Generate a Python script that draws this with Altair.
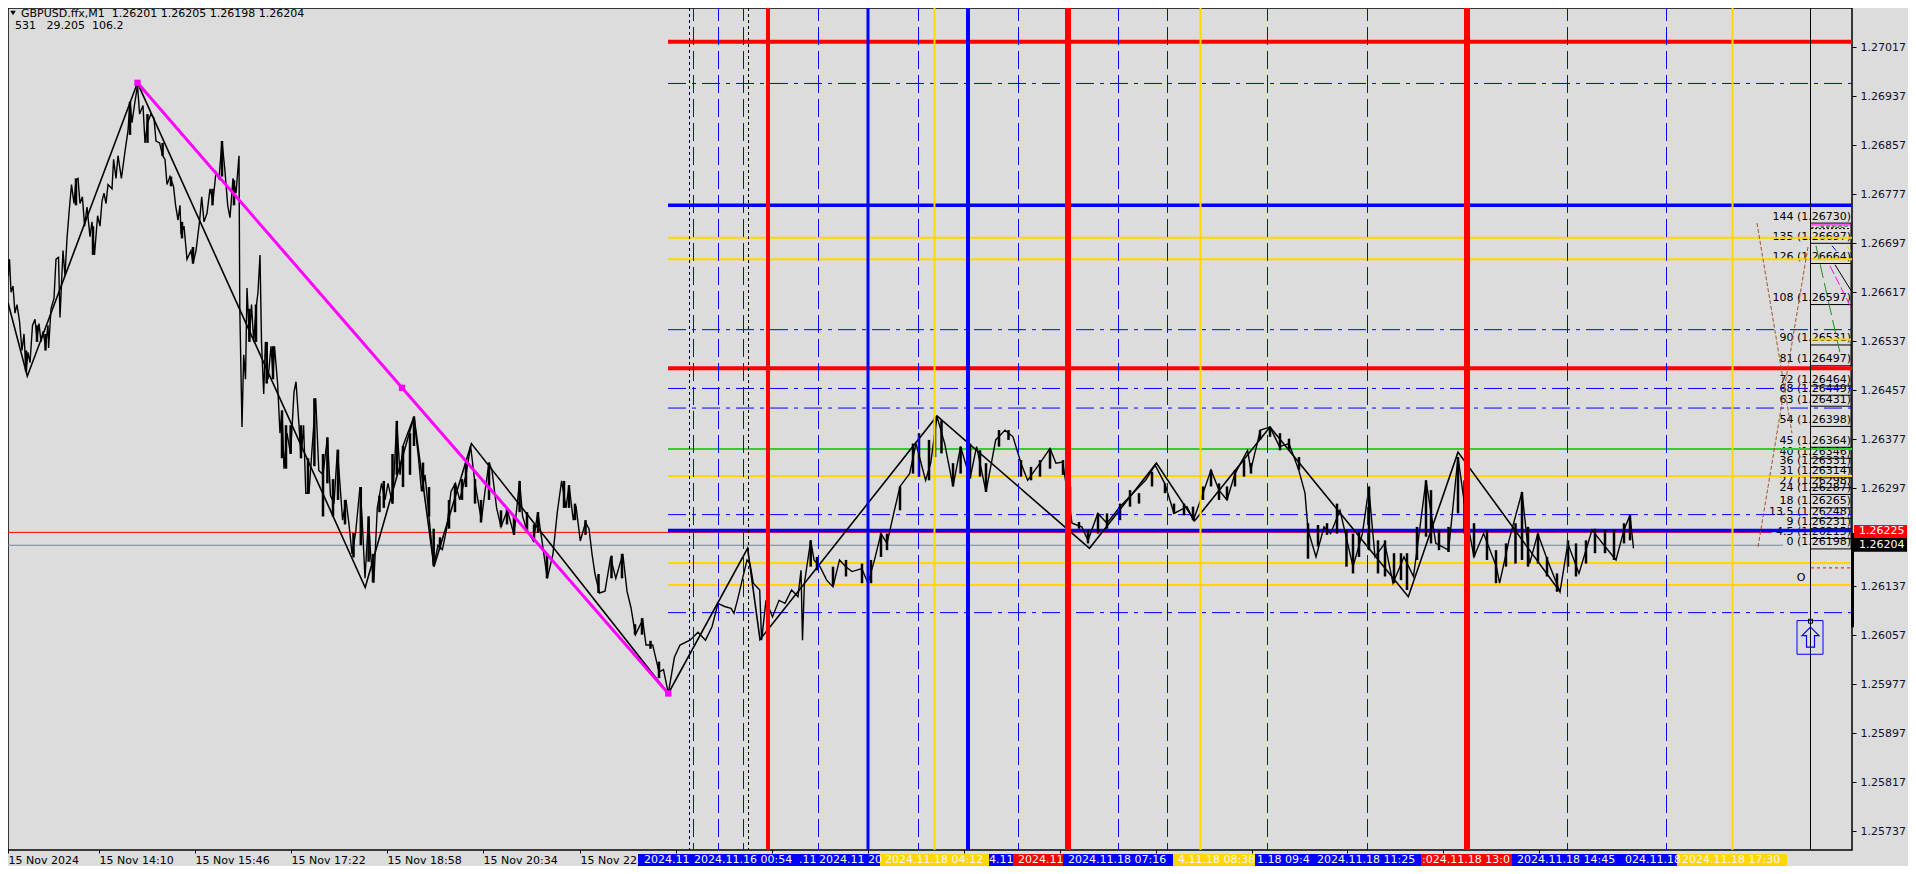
import altair as alt
import pandas as pd

FONT = "DejaVu Sans"
BG = "#dcdcdc"
BLUE, RED, GOLD, GREEN, MAG = "#0000ff", "#ff0000", "#ffd700", "#32cd32", "#ff00ff"

# (bar, price in 1e-5)
price_path = [(8,126644),(9.5,126671),(11,126617),(13,126627),(15,126583),(17,126597),(19.5,126570),(22,126522),(24,126549),(26,126488),(28,126519),(30,126502),(32.5,126563),(35,126573),(37,126542),(39,126566),(41,126536),(43,126553),(45.5,126529),(48,126563),(48.6,126526),(51,126590),(54,126607),(56,126671),(58.5,126674),(60,126576),(63,126685),(65,126644),(67,126705),(69,126746),(71.5,126793),(74,126762),(76,126800),(78,126803),(80,126762),(82.4,126773),(84.6,126725),(87,126756),(90,126708),(92,126732),(94.5,126678),(97.6,126742),(100,126725),(102,126766),(104,126779),(106,126762),(108,126793),(112,126786),(113.6,126834),(116,126803),(118,126840),(121.4,126803),(125,126847),(128,126881),(130,126928),(132,126894),(134.4,126922),(137.5,126955),(139.6,126908),(143,126922),(145,126861),(147.5,126894),(151,126908),(154,126901),(156,126864),(159.6,126861),(162.6,126840),(165,126834),(167,126793),(170,126806),(173.5,126790),(175.6,126759),(178,126735),(180,126759),(181,126712),(184,126725),(187,126671),(191,126685),(193,126664),(196,126685),(199.5,126732),(201.7,126773),(204,126732),(207,126746),(210,126786),(213,126766),(216,126813),(219,126803),(222,126864),(224.7,126820),(227.7,126759),(230,126739),(233,126803),(236,126779),(239,126840),(239.8,126590),(242,126397),(243.7,126515),(245.5,126475),(247,126624),(249.4,126542),(251.5,126597),(253.7,126536),(256,126590),(258,126617),(260,126678),(261.5,126536),(263.7,126451),(265.4,126536),(268,126475),(271,126529),(273,126481),(274.5,126529),(277.6,126468),(280,126387),(282,126424),(284,126329),(287,126387),(290.6,126353),(294,126454),(296,126471),(299,126400),(301,126346),(303.6,126400),(305.8,126289),(309,126289),(311.4,126346),(315.7,126444),(318.8,126326),(323,126319),(327.4,126380),(330.5,126285),(334,126272),(337.4,126360),(340.5,126292),(342.6,126245),(346,126278),(349,126238),(352,126190),(355.6,126224),(360,126299),(362,126251),(365,126150),(368.6,126251),(370.8,126184),(373.8,126143),(377.3,126265),(381.6,126305),(385,126278),(388,126305),(392.5,126272),(396.8,126407),(400,126319),(403,126366),(407.7,126387),(414,126414),(418.5,126346),(421.5,126292),(425,126319),(429,126251),(433.7,126170),(438,126204),(442.4,126197),(446.7,126231),(451,126292),(455.4,126305),(459.7,126278),(466,126319),(470.6,126366),(475,126305),(481.4,126245),(485,126292),(489,126339),(492,126326),(496.6,126265),(501,126234),(507.4,126261),(514,126221),(519.6,126309),(522.6,126251),(527,126228),(533.4,126211),(537.8,126258),(542,126211),(547.3,126150),(553,126190),(557.3,126258),(561.6,126309),(566,126265),(569,126302),(573.3,126245),(576,126268),(580.3,126211),(585.5,126241),(589,126231),(592,126190),(595,126157),(599.4,126126),(605,126129),(610.6,126184),(615.8,126150),(622.8,126190),(627,126129),(631,126102),(635.4,126058),(642.7,126082),(646,126041),(652.7,126041),(659,125997),(663.5,126001),(668.3,125962),(674.4,126021),(680,126041),(690,126049),(698,126062),(705.5,126049),(712,126071),(718,126109),(724.6,126104),(731,126101),(734,126093),(737.4,126114),(740.6,126136),(743.8,126158),(747,126180),(750,126174),(753.3,126142),(759.7,126131),(761.6,126049),(766,126114),(772.5,126087),(779,126114),(785,126109),(791.6,126131),(798,126120),(801,126163),(802.5,126049),(804.4,126142),(810.7,126212),(814,126180),(820,126169),(826.7,126147),(833,126136),(839.5,126180),(845.8,126169),(852,126161),(861.8,126166),(868,126142),(874.5,126180),(881,126223),(887,126207),(893.7,126256),(900,126300),(909.6,126321),(916,126370),(925.6,126310),(930.7,126338),(937,126414),(944.7,126370),(953,126300),(960.6,126365),(970,126313),(976.6,126365),(986,126291),(995.7,126376),(1005,126392),(1013,126381),(1021,126338),(1027.6,126310),(1040,126338),(1050,126362),(1056,126338),(1062.7,126340),(1067,126294),(1072,126240),(1081.8,126234),(1088,126212),(1097.8,126256),(1107,126240),(1120,126267),(1132.8,126289),(1145.6,126310),(1155,126335),(1164.7,126305),(1174,126256),(1187,126267),(1193.4,126245),(1203,126289),(1211,126327),(1219,126294),(1227,126278),(1235,126321),(1247.6,126359),(1250.8,126327),(1260.4,126392),(1270,126397),(1279.5,126365),(1289,126370),(1298.7,126327),(1305,126289),(1308,126229),(1316,126185),(1324,126234),(1330.6,126223),(1340,126261),(1353,126169),(1362.4,126223),(1368.8,126297),(1375,126185),(1384.8,126207),(1393,126142),(1404,126185),(1413.5,126153),(1420,126234),(1426,126310),(1435.8,126207),(1448.6,126196),(1458,126348),(1465.8,126256),(1474,126185),(1483.6,126223),(1496.4,126169),(1499.6,126142),(1509,126212),(1522,126291),(1529.6,126174),(1537.8,126223),(1547.4,126180),(1560,126128),(1567.8,126207),(1579,126158),(1592,126229),(1605,126202),(1616,126180),(1624,126229),(1630,126253),(1633.5,126199)]
# (bar, low, high in 1e-5): the dense high-low ranges
wick_left = [(8,126644,126671),(26,126488,126522),(37,126536,126563),(45.5,126522,126549),(76,126759,126803),(93,126678,126725),(130,126874,126928),(147.5,126861,126908),(162.6,126840,126861),(171,126790,126806),(182,126705,126732),(193,126664,126691),(212.5,126759,126786),(222,126806,126864),(234,126759,126800),(249.4,126536,126590),(256,126536,126597),(266.7,126468,126536),(273,126475,126529),(282,126346,126424),(286,126329,126400),(290.6,126353,126400),(301,126346,126400),(308,126289,126346),(314.4,126333,126444),(323,126251,126353),(327.4,126305,126380),(333,126251,126312),(338,126278,126360),(345,126238,126278),(353.5,126184,126224),(360.8,126204,126299),(368.6,126177,126251),(373,126143,126190),(379.5,126258,126285),(383.8,126265,126309),(392.5,126272,126353),(396.8,126319,126407),(403,126299,126366),(410,126319,126387),(414,126366,126414),(423,126292,126339),(429,126251,126299),(433.7,126170,126231),(440,126197,126217),(449,126231,126278),(455,126258,126305),(462,126278,126312),(466,126299,126339),(475,126272,126312),(481,126241,126278),(489,126278,126339),(501,126234,126261),(507,126238,126265),(514,126221,126251),(519.6,126258,126309),(527,126228,126258),(534,126211,126238),(538,126224,126258),(547,126150,126190),(564,126265,126309),(569,126265,126302),(575,126245,126272),(585.5,126221,126245),(598.5,126126,126157),(611.5,126150,126187),(622,126150,126190),(635,126058,126075),(642,126058,126085),(650.5,126035,126048),(659,125987,126014)]
wick_mid = [(810.7,126169,126212),(817,126163,126185),(833,126139,126169),(846,126153,126180),(862,126142,126174),(871,126142,126180),(881,126185,126223),(887,126196,126223),(900,126261,126300),(913,126321,126370),(919,126316,126387),(929,126310,126376),(935,126348,126414),(941.5,126354,126408),(953,126300,126338),(960.6,126321,126365),(970,126313,126370),(980,126316,126359),(986,126291,126338),(999,126365,126392),(1008.5,126376,126392),(1021,126316,126343),(1031,126310,126332),(1040,126316,126343),(1050,126329,126362),(1063,126319,126343),(1070,126250,126300),(1079,126231,126242),(1088,126207,126229),(1098,126223,126256),(1107,126231,126256),(1120,126245,126272),(1130,126267,126294),(1139,126272,126289),(1152,126300,126324),(1165,126289,126305),(1174,126256,126272),(1184,126253,126272),(1193,126245,126267),(1203,126278,126300),(1211,126300,126327),(1219,126278,126305),(1227,126278,126300),(1235,126300,126327),(1244,126316,126343),(1251,126321,126338),(1260,126376,126392),(1270,126381,126397),(1280,126359,126387),(1289,126359,126378),(1299,126327,126348)]
wick_right = [(1308,126182,126240),(1318,126202,126237),(1327,126221,126240),(1337,126223,126272),(1346.5,126169,126229),(1353,126158,126223),(1359,126185,126226),(1369,126196,126300),(1378,126158,126212),(1385,126153,126212),(1394,126142,126191),(1401,126147,126191),(1407,126131,126191),(1417,126180,126234),(1426,126218,126310),(1431,126207,126294),(1439,126196,126229),(1448.5,126193,126234),(1458,126256,126348),(1464.5,126223,126310),(1474,126185,126240),(1487,126180,126229),(1496,126142,126196),(1506,126169,126207),(1515.5,126174,126240),(1522,126180,126291),(1528,126169,126234),(1538,126174,126223),(1547,126153,126185),(1557,126128,126158),(1568,126169,126212),(1576,126153,126207),(1586,126174,126212),(1595,126191,126231),(1605,126191,126229),(1614,126180,126229),(1624,126207,126240),(1630,126212,126253)]
zigzag_path = [(8,126600),(27.3,126480),(137.5,126959),(365.2,126135),(414,126414),(434,126169),(471.4,126370),(668.3,125962),(747.6,126199),(760,126050),(937,126415),(1089.5,126199),(1156.4,126338),(1194.7,126244),(1270,126397),(1408.3,126120),(1458,126356),(1560,126128)]
trend_path = [(137.5,126959),(402,126461),(668.3,125962)]

gold_levels = [126706,126671,126317,126175,126139]
dashdot_levels = [126958,126556,126460,126428,126254,126094]
red_levels = [127026,126493]
blue_levels = [126759,126228]
green_levels = [126361]

dash_bars = [693.5,718.5,743.5,818.5,918.5,1018.5,1118.5,1167.5,1267.5,1367.5,1567.5,1666.5]
dotted_bars = [689.5,748.5]
red_bars_thin = [768]
red_bars_wide = [1068,1467]
blue_bars = [[868,3],[968,4]]
gold_bars = [934.5,1200.5,1732.5]

price_ticks = [1.27017,1.26937,1.26857,1.26777,1.26697,1.26617,1.26537,1.26457,1.26377,1.26297,1.26217,1.26137,1.26057,1.25977,1.25897,1.25817,1.25737]
time_ticks = [8,99,195,291,387,483,580,676,772,868,964,1060,1156,1252,1347,1443,1539]
time_names = ["15 Nov 2024","15 Nov 14:10","15 Nov 15:46","15 Nov 17:22","15 Nov 18:58","15 Nov 20:34","15 Nov 22:10"]

fib_ratio = ["144","135","126","108","90","81","72","68","63","54","45","40","36","31","27","24","18","13.5","9","4.5","0"]
fib_price = [126730,126697,126664,126597,126531,126497,126464,126449,126431,126398,126364,126346,126331,126314,126298,126287,126265,126248,126231,126215,126198]

band_start = [638,880,989,1013,1063,1173,1255,1421,1512,1677]
band_end = [880,989,1013,1063,1173,1255,1421,1512,1677,1787]
band_color = [BLUE,GOLD,BLUE,RED,BLUE,GOLD,BLUE,RED,BLUE,GOLD]
tag_x = [644,694,799,819,885,989,1018,1068,1178,1257,1317,1422,1517,1625,1682]
tag_text = ["2024.11","2024.11.16 00:54",".11","2024.11 20","2024.11.18 04:12","4.11","2024.11","2024.11.18 07:16","4.11.18 08:38","1.18 09:4","2024.11.18 11:25",":024.11.18 13:0","2024.11.18 14:45","024.11.18","2024.11.18 17:30"]

def P(v):
    return v / 100000

X0, X1 = 8, 1852
xs = alt.Scale(domain=[X0, X1], nice=False, zero=False)
ys = alt.Scale(domain=[1.257064, 1.270812], nice=False, zero=False)

label_map = "{" + ",".join(f"'{t}':'{n}'" for t, n in zip(time_ticks, time_names)) + "}"
xaxis = alt.Axis(values=time_ticks, labelExpr=f"{label_map}[''+datum.value] || ''", grid=False, domain=False,
                 tickSize=3, tickColor="black", labelFont=FONT, labelFontSize=11, labelColor="black", labelAlign="left",
                 labelPadding=1, labelOverlap=False, labelFlush=False, title=None, orient="bottom")
yaxis = alt.Axis(values=price_ticks, format=".5f", grid=False, domain=False, tickSize=4, tickColor="black",
                 labelFont=FONT, labelFontSize=11, labelColor="#101030", labelPadding=4, labelOverlap=False,
                 labelFlush=False, title=None, orient="right")

X = lambda f="x": alt.X(f"{f}:Q", scale=xs, axis=xaxis)
Y = lambda f="y": alt.Y(f"{f}:Q", scale=ys, axis=yaxis)


def hrule(levels, color, width, dash=None, start=668, end=X1):
    df = pd.DataFrame({"y": [P(v) for v in levels], "x": start, "x2": end})
    kw = {"strokeDash": dash} if dash else {}
    return alt.Chart(df).mark_rule(color=color, strokeWidth=width, **kw).encode(x=X(), x2="x2:Q", y=Y())


def vrule(bars, color, width, dash=None, offset=0):
    df = pd.DataFrame({"x": bars})
    kw = {"strokeDash": dash, "strokeDashOffset": offset} if dash else {}
    return alt.Chart(df).mark_rule(color=color, strokeWidth=width, **kw).encode(x=X())


def path(pts, color, width, dash=None):
    df = pd.DataFrame({"x": [p[0] for p in pts], "y": [P(p[1]) for p in pts], "o": range(len(pts))})
    kw = {"strokeDash": dash} if dash else {}
    return alt.Chart(df).mark_line(color=color, strokeWidth=width, clip=True, **kw).encode(x=X(), y=Y(), order="o:O")


wicks = wick_left + wick_mid + wick_right
wick_df = pd.DataFrame({"x": [w[0] for w in wicks], "y": [P(w[1]) for w in wicks], "y2": [P(w[2]) for w in wicks]})
wick_layer = alt.Chart(wick_df).mark_rule(color="black", strokeWidth=2.5).encode(x=X(), y=Y(), y2="y2:Q")

fib_df = pd.DataFrame({"y": [P(v) for v in fib_price],
                       "t": [f"{r} ({P(v):.5f})" for r, v in zip(fib_ratio, fib_price)], "x": 1851})
fib_text = alt.Chart(fib_df).mark_text(font=FONT, fontSize=11, align="right", baseline="middle", dy=-6.5, color="black").encode(
    x=X(), y=Y(), text="t:N")
fib_box = hrule(fib_price, "black", 1, start=1811, end=1851)
fib_side = path([(1851, 126730), (1851, 126198)], "black", 1)

brown_a = path([(1757, 126730), (1792, 126387)], "#a0522d", 1, [4, 2])
brown_b = path([(1808, 126691), (1758, 126201)], "#a0522d", 1, [4, 2])
fan = [path([(1816, 126693), (1840, 126518)], "#228b22", 1, [14, 5]),
       path([(1830, 126660), (1852, 126589)], MAG, 1, [9, 3]),
       path([(1835, 126662), (1851, 126620)], "black", 1),
       path([(1832, 126693), (1836, 126685)], BLUE, 1),
       path([(1847, 126692), (1851, 126684)], GOLD, 1),
       hrule([126727], MAG, 1, start=1811, end=1851),
       hrule([126725], "#228b22", 1, [4, 2], start=1820, end=1851),
       hrule([126723], RED, 1, [3, 2], start=1811, end=1845),
       hrule([126721], "black", 1, [2, 2], start=1811, end=1851),
       hrule([126540], GOLD, 2, start=1811, end=1851),
       hrule([126091 + 76], RED, 1, [3, 3], start=1811, end=1850)]

tags = pd.DataFrame({"x": [1854, 1854], "x2": [1907, 1907], "y": [1.26237, 1.26216], "y2": [1.26216, 1.261935],
                     "c": [RED, "#000000"], "t": ["1.26225", "1.26204"], "tx": [1859, 1859], "ty": [1.262265, 1.26204]})
tag_rect = alt.Chart(tags).mark_rect().encode(x=X(), x2="x2:Q", y=Y(), y2="y2:Q", color=alt.Color("c:N", scale=None))
tag_txt = alt.Chart(tags).mark_text(font=FONT, fontSize=11, color="white", align="left", baseline="middle").encode(
    x=X("tx"), y=Y("ty"), text="t:N")

bands = pd.DataFrame({"x": band_start, "x2": band_end, "c": band_color})
band_rect = alt.Chart(bands).mark_rect().encode(x=X(), x2="x2:Q", y=alt.value(846), y2=alt.value(858),
                                                 color=alt.Color("c:N", scale=None))
band_txt = alt.Chart(pd.DataFrame({"x": tag_x, "t": tag_text})).mark_text(
    font=FONT, fontSize=11, color="#fafaf0", align="left", baseline="middle").encode(x=X(), y=alt.value(852), text="t:N")

NB = "\u00a0"
head1 = alt.Chart(pd.DataFrame({"x": [21], "t": [f"GBPUSD.ffx,M1{NB}{NB}1.26201 1.26205 1.26198 1.26204"]})).mark_text(
    font=FONT, fontSize=11, color="black", align="left", baseline="middle").encode(x=X(), y=alt.value(5.5), text="t:N")
head2 = alt.Chart(pd.DataFrame({"x": [15], "t": [f"531{NB}{NB}{NB}29.205{NB}{NB}106.2"]})).mark_text(
    font=FONT, fontSize=11, color="black", align="left", baseline="middle").encode(x=X(), y=alt.value(18), text="t:N")
head3 = alt.Chart(pd.DataFrame({"x": [13]})).mark_point(shape="triangle-down", filled=True, color="black", size=30, opacity=1).encode(
    x=X(), y=alt.value(5))

squares = pd.DataFrame({"x": [p[0] for p in trend_path], "y": [P(p[1]) for p in trend_path]})
trend_pts = alt.Chart(squares).mark_point(shape="square", filled=True, color=MAG, size=40, opacity=1).encode(x=X(), y=Y())

signal_box = alt.Chart(pd.DataFrame({"x": [1797], "x2": [1823], "y": [1.26081], "y2": [1.26026]})).mark_rect(
    fill=None, stroke=BLUE, strokeWidth=1).encode(x=X(), x2="x2:Q", y=Y(), y2="y2:Q")
signal_arrow = alt.Chart(pd.DataFrame({"x": [1810.5], "y": [1.26054]})).mark_point(
    shape="M0 -1 L0.85 -0.15 L0.4 -0.15 L0.4 1 L-0.4 1 L-0.4 -0.15 L-0.85 -0.15 Z", size=400, filled=False,
    stroke=BLUE, strokeWidth=1.2, opacity=1).encode(x=X(), y=Y())
signal_dot = alt.Chart(pd.DataFrame({"x": [1810.5], "y": [1.26080]})).mark_point(
    shape="square", size=16, filled=False, stroke="black", strokeWidth=1, opacity=1).encode(x=X(), y=Y())
signal_o = alt.Chart(pd.DataFrame({"x": [1801], "y": [1.26150]})).mark_text(
    font=FONT, fontSize=11, text="O", color="black", baseline="middle").encode(x=X(), y=Y())
price_bar = alt.Chart(pd.DataFrame({"x": [1852.5], "y": [1.26224], "y2": [1.26070]})).mark_rule(
    color="black", strokeWidth=3).encode(x=X(), y=Y(), y2="y2:Q")

chart = alt.layer(
    fib_text, fib_box, fib_side,
    hrule([126225], RED, 1, start=X0, end=1772),
    hrule([126204], "#778899", 1, start=X0, end=1783),
    hrule(gold_levels, GOLD, 2),
    hrule(green_levels, GREEN, 2),
    hrule(dashdot_levels, BLUE, 1, [18, 6, 4, 6]),
    hrule(blue_levels, BLUE, 3.5),
    hrule(red_levels, RED, 4),
    brown_a, brown_b, *fan,
    path(price_path, "#000000", 1.4),
    wick_layer,
    path(zigzag_path, "black", 1.6),
    path(trend_path, MAG, 3),
    trend_pts,
    vrule(dotted_bars, "black", 1, [3, 3]),
    vrule(dash_bars, BLUE, 1, [18, 6], 5),
    vrule(gold_bars, GOLD, 2),
    vrule(red_bars_thin, RED, 4),
    vrule(red_bars_wide, RED, 6),
    vrule([b[0] for b in blue_bars if b[1] == 3], BLUE, 3),
    vrule([b[0] for b in blue_bars if b[1] == 4], BLUE, 4),
    vrule([1810.5], "black", 1),
    signal_box, signal_arrow, signal_dot, signal_o, price_bar,
    tag_rect, tag_txt, band_rect, band_txt, head1, head2, head3,
).properties(
    width=X1 - X0, height=842, background=BG,
    autosize=alt.AutoSizeParams(type="none"),
    padding={"left": 0, "top": 0, "right": 56, "bottom": 16},
).configure_view(stroke="black", strokeWidth=1.5, fill=BG)

chart.save("out.html", embed_options={"renderer": "svg", "actions": False})
